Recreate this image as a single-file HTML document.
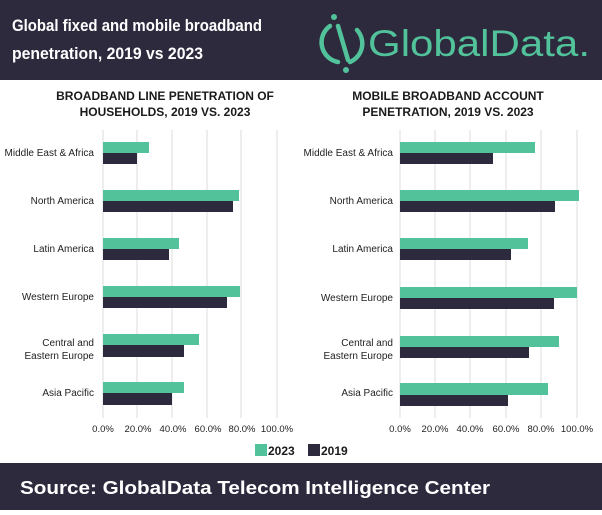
<!DOCTYPE html>
<html><head><meta charset="utf-8"><style>
body{margin:0;width:602px;height:510px;overflow:hidden;background:#fff;font-family:"Liberation Sans",sans-serif}
</style></head><body>
<svg width="602" height="510" viewBox="0 0 602 510" xmlns="http://www.w3.org/2000/svg" font-family="Liberation Sans, sans-serif">
<rect x="0" y="0" width="602" height="510" fill="#fff"/>
<rect x="0" y="0" width="602" height="80" fill="#2d2a3e"/>
<text x="12" y="31" fill="#fff" font-size="17" font-weight="bold" textLength="250" lengthAdjust="spacingAndGlyphs">Global fixed and mobile broadband</text>
<text x="12" y="59" fill="#fff" font-size="17" font-weight="bold" textLength="191" lengthAdjust="spacingAndGlyphs">penetration, 2019 vs 2023</text>
<g fill="none" stroke="#52c29b" stroke-width="4.5" stroke-linecap="round">
<path d="M330 26 A20 20 0 0 0 338 62"/>
<path d="M357 30 A20 20 0 0 1 350 62"/>
<path d="M338 26 L348 60"/>
</g>
<circle cx="334" cy="17" r="3" fill="#52c29b"/>
<circle cx="346" cy="70" r="3" fill="#52c29b"/>
<text x="368" y="56" fill="#52c29b" font-size="37" textLength="222" lengthAdjust="spacingAndGlyphs">GlobalData.</text>

<g font-weight="bold" font-size="12" fill="#1a1a1a" text-anchor="middle">
<text x="165" y="100">BROADBAND LINE PENETRATION OF</text>
<text x="165" y="116">HOUSEHOLDS, 2019 VS. 2023</text>
<text x="448" y="100">MOBILE BROADBAND ACCOUNT</text>
<text x="448" y="116">PENETRATION, 2019 VS. 2023</text>
</g>

<g stroke="#dcdcdc" stroke-width="1">
<line x1="103" y1="130" x2="103" y2="418"/><line x1="137" y1="130" x2="137" y2="418"/><line x1="172" y1="130" x2="172" y2="418"/><line x1="207" y1="130" x2="207" y2="418"/><line x1="241" y1="130" x2="241" y2="418"/><line x1="277" y1="130" x2="277" y2="418"/>
<line x1="400" y1="130" x2="400" y2="418"/><line x1="435" y1="130" x2="435" y2="418"/><line x1="470" y1="130" x2="470" y2="418"/><line x1="506" y1="130" x2="506" y2="418"/><line x1="541" y1="130" x2="541" y2="418"/><line x1="577" y1="130" x2="577" y2="418"/>
</g>

<g fill="#52c29b">
<rect x="103" y="142" width="46" height="11"/>
<rect x="103" y="190" width="136" height="11"/>
<rect x="103" y="238" width="76" height="11"/>
<rect x="103" y="286" width="137" height="11"/>
<rect x="103" y="334" width="96" height="11"/>
<rect x="103" y="382" width="81" height="11"/>
<rect x="400" y="142" width="135" height="11"/>
<rect x="400" y="190" width="179" height="11"/>
<rect x="400" y="238" width="128" height="11"/>
<rect x="400" y="287" width="177" height="11"/>
<rect x="400" y="336" width="159" height="11"/>
<rect x="400" y="383" width="148" height="12"/>
</g>
<g fill="#2d2a3e">
<rect x="103" y="153" width="34" height="11"/>
<rect x="103" y="201" width="130" height="11"/>
<rect x="103" y="249" width="66" height="11"/>
<rect x="103" y="297" width="124" height="11"/>
<rect x="103" y="345" width="81" height="12"/>
<rect x="103" y="393" width="69" height="12"/>
<rect x="400" y="153" width="93" height="11"/>
<rect x="400" y="201" width="155" height="11"/>
<rect x="400" y="249" width="111" height="11"/>
<rect x="400" y="298" width="154" height="11"/>
<rect x="400" y="347" width="129" height="11"/>
<rect x="400" y="395" width="108" height="11"/>
</g>

<g font-size="10" fill="#222" text-anchor="end">
<text x="94" y="156">Middle East &amp; Africa</text>
<text x="94" y="204">North America</text>
<text x="94" y="252">Latin America</text>
<text x="94" y="300">Western Europe</text>
<text x="94" y="346">Central and</text>
<text x="94" y="359">Eastern Europe</text>
<text x="94" y="396">Asia Pacific</text>
<text x="393" y="156">Middle East &amp; Africa</text>
<text x="393" y="204">North America</text>
<text x="393" y="252">Latin America</text>
<text x="393" y="301">Western Europe</text>
<text x="393" y="346">Central and</text>
<text x="393" y="359">Eastern Europe</text>
<text x="393" y="396">Asia Pacific</text>
</g>
<g font-size="9.5" fill="#222" text-anchor="middle">
<text x="103" y="432">0.0%</text><text x="138" y="432">20.0%</text><text x="173" y="432">40.0%</text><text x="208" y="432">60.0%</text><text x="242" y="432">80.0%</text><text x="277" y="432">100.0%</text>
<text x="400" y="432">0.0%</text><text x="435" y="432">20.0%</text><text x="470" y="432">40.0%</text><text x="506" y="432">60.0%</text><text x="541" y="432">80.0%</text><text x="577" y="432">100.0%</text>
</g>

<rect x="255" y="444" width="12" height="12" fill="#52c29b"/>
<text x="268" y="455" font-size="12" font-weight="bold" fill="#1a1a1a">2023</text>
<rect x="308" y="444" width="12" height="12" fill="#2d2a3e"/>
<text x="321" y="455" font-size="12" font-weight="bold" fill="#1a1a1a">2019</text>

<rect x="0" y="463" width="602" height="47" fill="#2d2a3e"/>
<text x="20" y="494" font-size="18" font-weight="bold" fill="#fff" textLength="470" lengthAdjust="spacingAndGlyphs">Source:  GlobalData Telecom Intelligence Center</text>
</svg>
</body></html>
